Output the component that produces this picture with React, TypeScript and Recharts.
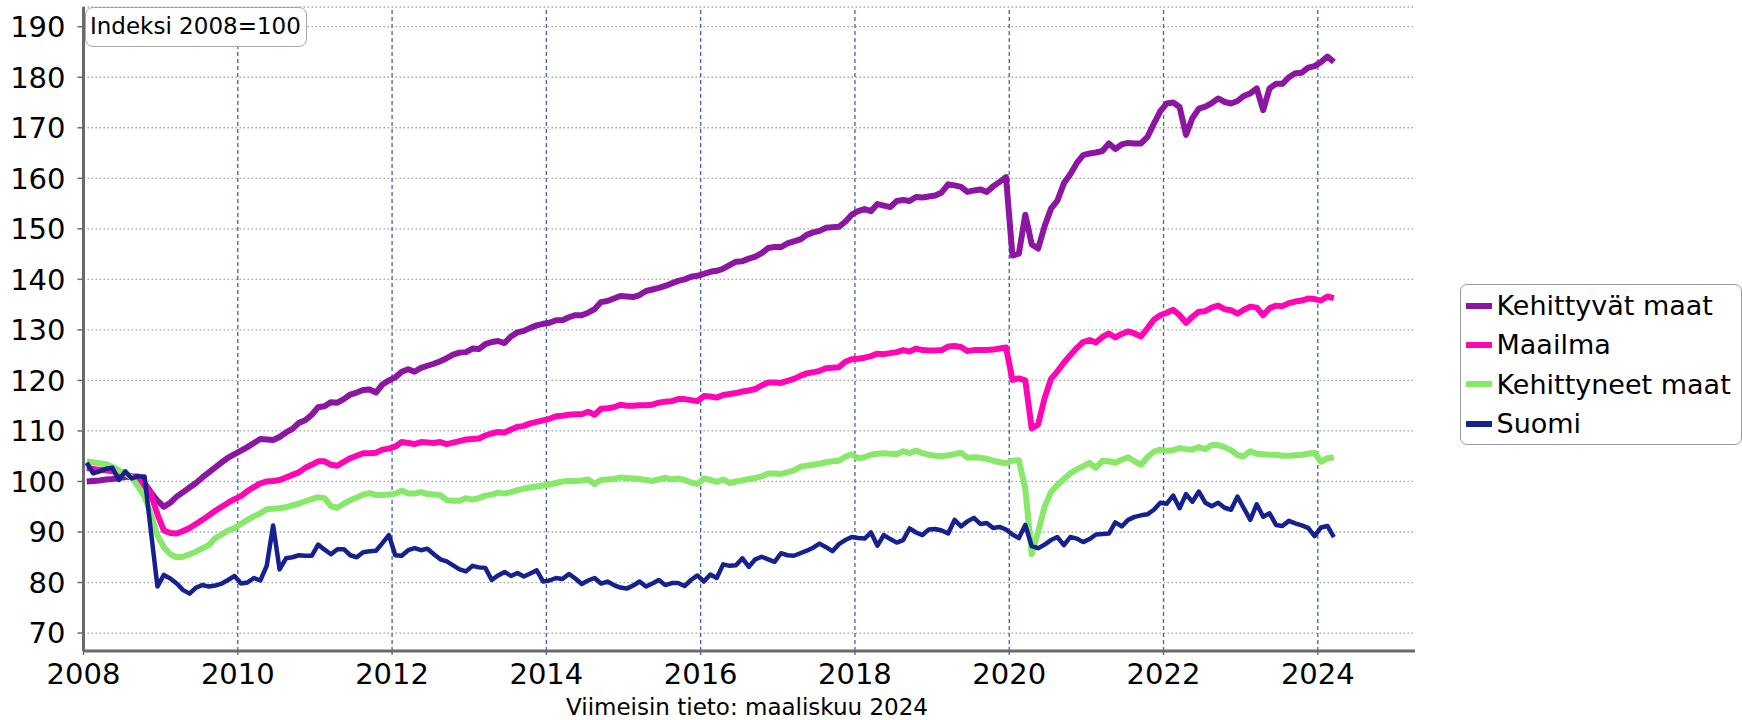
import React from 'react';
import { LineChart, Line, XAxis, YAxis, CartesianGrid, Legend, ReferenceLine } from 'recharts';

const START_YEAR = 2008;

const kehittyvat = [
  100.0, 100.1, 100.2, 100.4, 100.5, 100.7, 100.9, 101.0, 101.0, 99.6,
  97.8, 96.2, 95.0, 95.8, 97.0, 97.9, 98.8, 99.7, 100.8, 101.8,
  102.8, 103.8, 104.7, 105.4, 106.1, 106.8, 107.6, 108.4, 108.3, 108.2,
  108.8, 109.7, 110.4, 111.6, 112.1, 113.2, 114.7, 114.9, 115.7, 115.6,
  116.3, 117.2, 117.6, 118.1, 118.2, 117.6, 119.2, 120.0, 120.6, 121.7,
  122.2, 121.7, 122.5, 122.9, 123.3, 123.8, 124.4, 125.1, 125.5, 125.6,
  126.3, 126.2, 127.2, 127.6, 127.8, 127.4, 128.7, 129.5, 129.8, 130.4,
  130.9, 131.2, 131.4, 131.9, 131.9, 132.5, 132.9, 132.9, 133.4, 134.1,
  135.5, 135.7, 136.2, 136.7, 136.6, 136.5, 136.9, 137.7, 138.0, 138.3,
  138.7, 139.2, 139.7, 140.0, 140.5, 140.7, 141.1, 141.5, 141.7, 142.1,
  142.8, 143.5, 143.6, 144.1, 144.5, 145.2, 146.2, 146.4, 146.4, 147.1,
  147.5, 147.9, 148.8, 149.3, 149.6, 150.2, 150.3, 150.4, 151.4, 152.8,
  153.5, 153.9, 153.5, 154.9, 154.6, 154.3, 155.5, 155.7, 155.5, 156.3,
  156.2, 156.4, 156.6, 157.2, 158.8, 158.6, 158.3, 157.3, 157.6, 157.8,
  157.3, 158.4, 159.3, 160.2, 144.7, 145.1, 152.8, 146.9, 146.1, 150.5,
  154.0, 155.6, 159.0, 160.8, 163.0, 164.6, 164.9, 165.1, 165.4, 166.9,
  165.8, 166.7, 167.0, 166.9, 166.9, 168.2, 170.8, 173.3, 174.8, 175.0,
  174.1, 168.6, 171.9, 173.8, 174.2, 174.9, 175.8, 175.1, 174.8, 175.3,
  176.3, 176.8, 177.8, 173.5, 177.8, 178.7, 178.7, 180.0, 180.8, 180.9,
  181.9, 182.2, 183.0, 184.1, 183.0,
];

const maailma = [
  102.7, 102.5, 102.3, 102.2, 102.0, 101.8, 101.4, 101.0, 100.4, 99.0,
  97.5, 93.5, 90.3, 89.8, 89.7, 90.2, 90.8, 91.6, 92.4, 93.3,
  94.2, 95.0, 95.8, 96.5, 97.1, 98.1, 98.9, 99.6, 100.0, 100.1,
  100.3, 100.8, 101.3, 101.8, 102.7, 103.3, 104.0, 104.0, 103.3, 103.1,
  103.9, 104.6, 105.1, 105.6, 105.6, 105.7, 106.3, 106.5, 106.9, 107.8,
  107.6, 107.4, 107.8, 107.7, 107.6, 107.8, 107.4, 107.7, 108.0, 108.3,
  108.4, 108.5, 109.1, 109.5, 109.8, 109.7, 110.3, 110.8, 111.0, 111.5,
  111.8, 112.1, 112.4, 112.9, 113.0, 113.2, 113.3, 113.3, 113.8, 113.2,
  114.4, 114.5, 114.7, 115.2, 115.0, 115.0, 115.1, 115.1, 115.2, 115.6,
  115.8, 115.9, 116.3, 116.3, 116.1, 115.9, 116.9, 116.8, 116.6, 117.1,
  117.3, 117.5, 117.8, 118.0, 118.3, 119.0, 119.6, 119.6, 119.5, 119.9,
  120.3, 120.9, 121.4, 121.6, 121.9, 122.4, 122.5, 122.6, 123.7, 124.2,
  124.3, 124.5, 124.8, 125.3, 125.2, 125.4, 125.6, 126.0, 125.7, 126.3,
  126.0, 125.9, 125.9, 126.0, 126.7, 126.8, 126.6, 125.8, 126.0, 126.0,
  126.0, 126.1, 126.3, 126.5, 120.1, 120.4, 120.0, 110.5, 111.3, 116.5,
  120.3, 121.8, 123.5, 125.0, 126.4, 127.6, 128.0, 127.5, 128.6, 129.3,
  128.5, 129.2, 129.7, 129.3, 128.7, 130.3, 132.0, 132.9, 133.4, 134.0,
  132.9, 131.4, 132.6, 133.6, 133.7, 134.4, 134.8, 134.1, 133.9, 133.2,
  134.0, 134.6, 134.4, 132.9, 134.3, 134.8, 134.7, 135.3, 135.6, 135.8,
  136.2, 136.1, 135.8, 136.6, 136.3,
];

const kehittyneet = [
  104.0, 103.8, 103.6, 103.4, 102.9, 102.2, 101.6, 100.8, 99.0, 97.0,
  93.5, 89.3, 87.0, 85.6, 85.0, 85.1, 85.6, 86.1, 86.8, 87.4,
  88.8, 89.5, 90.3, 90.8, 91.6, 92.4, 93.1, 93.7, 94.5, 94.6,
  94.7, 94.9, 95.3, 95.6, 96.1, 96.5, 96.9, 96.7, 95.1, 94.8,
  95.6, 96.3, 96.8, 97.4, 97.7, 97.3, 97.3, 97.4, 97.6, 98.2,
  97.6, 97.6, 97.9, 97.5, 97.4, 97.3, 96.3, 96.2, 96.2, 96.7,
  96.4, 96.7, 97.2, 97.4, 97.8, 97.6, 97.9, 98.3, 98.6, 98.8,
  99.0, 99.2, 99.4, 99.7, 100.0, 100.1, 100.1, 100.2, 100.4, 99.5,
  100.3, 100.4, 100.5, 100.8, 100.7, 100.6, 100.5, 100.3, 100.1, 100.4,
  100.7, 100.4, 100.6, 100.3, 99.8, 99.5, 100.6, 100.3, 99.9, 100.4,
  99.7, 100.0, 100.2, 100.5, 100.7, 101.0, 101.6, 101.6, 101.5, 101.8,
  102.2, 102.9, 103.1, 103.3, 103.5, 103.8, 104.0, 104.1, 104.9, 105.4,
  104.6, 104.8, 105.3, 105.5, 105.6, 105.5, 105.4, 106.0, 105.6, 106.1,
  105.6, 105.3, 105.1, 105.0, 105.2, 105.4, 105.7, 104.7, 104.8, 104.7,
  104.5, 104.1, 103.8, 103.6, 104.1, 104.2, 98.6, 85.6, 90.0, 95.0,
  97.9, 99.3, 100.5, 101.6, 102.4, 103.0, 103.7, 102.7, 104.1, 104.0,
  103.7, 104.3, 104.8, 104.0, 103.3, 104.8, 105.9, 106.3, 106.1, 106.2,
  106.6, 106.4, 106.3, 106.8, 106.4, 107.2, 107.2, 106.8, 106.2, 105.2,
  105.0, 106.0, 105.5, 105.4, 105.3, 105.3, 105.1, 105.1, 105.2, 105.3,
  105.5, 105.7, 103.9, 104.6, 104.8,
];

const suomi = [
  103.7, 101.6, 102.0, 102.5, 102.7, 100.3, 102.0, 100.6, 101.0, 101.0,
  90.0, 79.2, 81.5, 80.8, 79.8, 78.5, 77.8, 79.0, 79.5, 79.2,
  79.4, 79.8, 80.5, 81.3, 79.8, 80.0, 80.9, 80.4, 83.3, 91.3,
  82.6, 84.8, 85.0, 85.4, 85.3, 85.3, 87.5, 86.5, 85.6, 86.6,
  86.6, 85.4, 85.0, 86.0, 86.2, 86.3, 87.8, 89.4, 85.4, 85.3,
  86.4, 86.8, 86.4, 86.7, 85.6, 84.6, 84.2, 83.4, 82.6, 82.2,
  83.3, 83.0, 82.9, 80.5, 81.4, 82.1, 81.3, 81.9, 81.2, 81.8,
  82.4, 80.2, 80.4, 80.9, 80.7, 81.7, 80.8, 79.7, 80.4, 80.9,
  79.8, 80.2, 79.5, 79.0, 78.8, 79.4, 80.2, 79.2, 79.8, 80.5,
  79.5, 79.9, 79.9, 79.3, 80.5, 81.4, 80.2, 81.6, 80.9, 83.6,
  83.3, 83.4, 84.8, 83.1, 84.6, 85.1, 84.6, 84.1, 85.8, 85.4,
  85.3, 85.8, 86.3, 86.9, 87.7, 87.0, 86.2, 87.6, 88.4, 89.0,
  88.8, 88.7, 89.9, 87.3, 89.4, 88.6, 87.9, 88.4, 90.7, 89.9,
  89.4, 90.5, 90.6, 90.3, 89.7, 92.4, 91.1, 92.1, 92.8, 91.6,
  91.8, 90.8, 91.0, 90.5, 89.5, 88.8, 91.4, 87.2, 86.8, 87.5,
  88.4, 89.0, 87.4, 89.0, 88.7, 88.0, 88.6, 89.5, 89.6, 89.7,
  91.9, 91.1, 92.4, 93.0, 93.3, 93.5, 94.4, 95.8, 95.6, 97.2,
  94.7, 97.5, 96.0, 98.0, 95.8, 95.1, 95.8, 94.8, 94.4, 97.0,
  94.7, 92.4, 95.5, 93.0, 93.7, 91.4, 91.2, 92.2, 91.7, 91.3,
  90.8, 89.2, 90.9, 91.2, 89.0,
];

const xTicks = [2008, 2010, 2012, 2014, 2016, 2018, 2020, 2022, 2024];
const yTicks = [70, 80, 90, 100, 110, 120, 130, 140, 150, 160, 170, 180, 190];

const seriesKeys = ['k', 'm', 'd', 's'];
const seriesNames = ['Kehittyvät maat', 'Maailma', 'Kehittyneet maat', 'Suomi'];
const seriesColors = ['#8c16a2', '#ff06b5', '#88e86a', '#16208e'];
const seriesWidths = [6, 6, 6, 4.5];

const titleText = 'Indeksi 2008=100';
const footerText = 'Viimeisin tieto: maaliskuu 2024';

const FONT = '"DejaVu Sans", Verdana, sans-serif';
const GRID_BLUE = '#3e66a3';

const data = kehittyvat.map((v, i) => ({
  t: START_YEAR + (i + 0.5) / 12,
  k: v,
  m: maailma[i],
  d: kehittyneet[i],
  s: suomi[i],
}));

const renderLegend = () => (
  <div
    style={{
      boxSizing: 'border-box',
      width: 282,
      height: 161,
      border: '1.5px solid #9b9b9b',
      borderRadius: 7,
      background: '#fff',
      padding: '1px 0 0 4.5px',
      fontFamily: FONT,
      fontSize: 27,
      color: '#000',
    }}
  >
    {seriesNames.map((n, i) => (
      <div key={n} style={{ display: 'flex', alignItems: 'center', height: 39.3, whiteSpace: 'nowrap' }}>
        <span style={{ display: 'inline-block', width: 26, height: 6, background: seriesColors[i], marginRight: 5 }} />
        <span>{n}</span>
      </div>
    ))}
  </div>
);

export default function App() {
  return (
    <div style={{ position: 'absolute', left: 0, top: 0, width: 1742, height: 720, background: '#fff', fontFamily: FONT }}>
      <LineChart width={1742} height={720} data={data} margin={{ top: 7, right: 45, bottom: 9, left: 13.5 }}>
        <CartesianGrid vertical={false} stroke="#a3a3a3" strokeWidth={1.3} strokeDasharray="1.5 2.5" />
        {xTicks.slice(1).map((t) => (
          <ReferenceLine key={t} x={t} stroke={GRID_BLUE} strokeWidth={1.3} strokeDasharray="4 3" />
        ))}
        <XAxis
          dataKey="t"
          type="number"
          domain={[2008, 2025.26]}
          ticks={xTicks}
          allowDataOverflow
          height={60}
          tick={{ fontSize: 29, fill: '#000', fontFamily: FONT }}
          axisLine={{ stroke: '#6a6a6a', strokeWidth: 3 }}
          tickLine={{ stroke: GRID_BLUE, strokeWidth: 1.3 }}
          tickSize={4}
          tickMargin={8}
        />
        <YAxis
          type="number"
          domain={[66.45, 193.9]}
          ticks={yTicks}
          allowDataOverflow
          width={70}
          tick={{ fontSize: 29, fill: '#000', fontFamily: FONT }}
          axisLine={{ stroke: '#6a6a6a', strokeWidth: 3 }}
          tickLine={{ stroke: '#6a6a6a', strokeWidth: 1.5 }}
          tickSize={6}
          tickMargin={12}
        />
        <Legend
          layout="vertical"
          align="right"
          verticalAlign="top"
          content={renderLegend}
          wrapperStyle={{ left: 1460, right: 'auto', top: 284, width: 282 }}
        />
        {seriesKeys.map((k, i) => (
          <Line
            key={k}
            type="linear"
            dataKey={k}
            name={seriesNames[i]}
            stroke={seriesColors[i]}
            strokeWidth={seriesWidths[i]}
            strokeLinejoin="round"
            dot={false}
            activeDot={false}
            isAnimationActive={false}
          />
        ))}
      </LineChart>
      <div
        style={{
          position: 'absolute',
          left: 85,
          top: 7,
          width: 222,
          height: 40,
          boxSizing: 'border-box',
          border: '1.5px solid #a8a8a8',
          borderRadius: 8,
          background: '#fff',
          fontSize: 23,
          lineHeight: '37px',
          paddingLeft: 4,
          color: '#000',
          whiteSpace: 'nowrap',
        }}
      >
        {titleText}
      </div>
      <div
        style={{
          position: 'absolute',
          left: 447,
          width: 600,
          top: 692,
          textAlign: 'center',
          fontSize: 23,
          lineHeight: '30px',
          color: '#000',
        }}
      >
        {footerText}
      </div>
    </div>
  );
}
